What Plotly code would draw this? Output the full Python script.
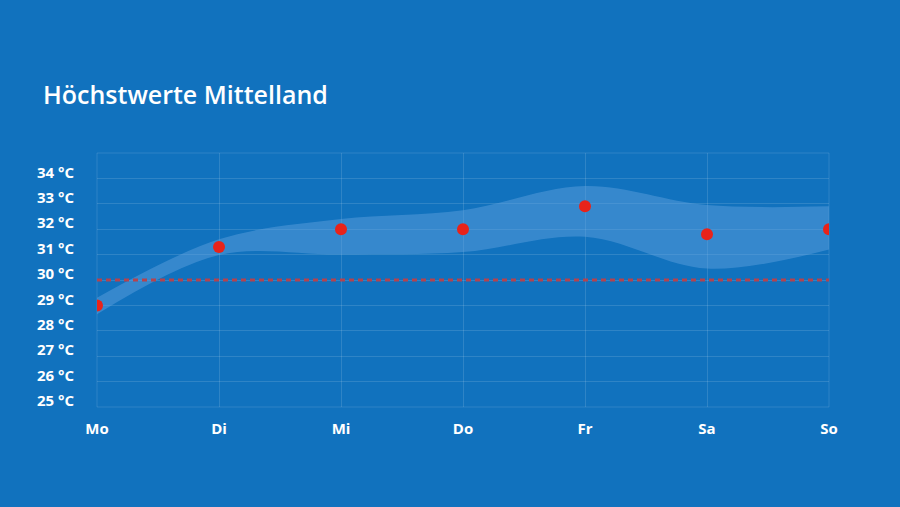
import plotly.graph_objects as go

days = ["Mo", "Di", "Mi", "Do", "Fr", "Sa", "So"]
tmax = [29.0, 31.3, 32.0, 32.0, 32.9, 31.8, 32.0]
band_low = [28.65, 30.98, 31.0, 31.1, 31.7, 30.45, 31.2]
band_high = [29.3, 31.6, 32.4, 32.75, 33.7, 32.95, 32.9]
normal = [30.0] * 7
ytick_vals = [25, 26, 27, 28, 29, 30, 31, 32, 33, 34]
ytick_text = [f"{v} °C" for v in ytick_vals]

x = list(range(len(days)))
bg = "#1172be"
grid = "rgba(255,255,255,0.13)"

fig = go.Figure()
fig.add_trace(go.Scatter(x=x, y=band_low, mode="lines", line=dict(width=0, shape="spline", smoothing=1.0),
                         hoverinfo="skip", showlegend=False))
fig.add_trace(go.Scatter(x=x, y=band_high, mode="lines", line=dict(width=0, shape="spline", smoothing=1.0),
                         fill="tonexty", fillcolor="rgba(100,165,225,0.45)", hoverinfo="skip", showlegend=False))
fig.add_trace(go.Scatter(x=x, y=normal, mode="lines", line=dict(color="#b4434f", width=3, dash="5px,4px"),
                         showlegend=False))
fig.add_trace(go.Scatter(x=x, y=tmax, mode="markers", marker=dict(color="#e8231a", size=12),
                         showlegend=False))

fig.update_layout(
    width=900, height=507,
    paper_bgcolor=bg, plot_bgcolor=bg,
    margin=dict(l=97, r=71, t=153, b=100),
    font=dict(family="Open Sans", color="white"),
    title=dict(text="Höchstwerte Mittelland", x=43/900, xanchor="left", y=1-95/507, yanchor="middle",
               font=dict(size=25, color="white", family="Open Sans", weight=600)),
)
fig.update_xaxes(range=[0, 6], tickvals=x, ticktext=[f"<b>{d}</b>" for d in days],
                 showgrid=True, gridcolor=grid, gridwidth=1, zeroline=False,
                 showline=False, ticks="", tickfont=dict(size=15, color="white"), ticklabelstandoff=11,
                 mirror=False)
fig.update_yaxes(range=[25, 35], tickvals=ytick_vals, ticktext=[f"<b>{t}</b>" for t in ytick_text],
                 showgrid=True, gridcolor=grid, gridwidth=1, zeroline=False,
                 ticks="", tickfont=dict(size=15, color="white"), ticklabelshift=-6, ticklabelstandoff=22)
fig.add_shape(type="rect", xref="paper", yref="paper", x0=0, x1=1, y0=0, y1=1,
              line=dict(color=grid, width=1), layer="below")

fig.write_html("out.html")
